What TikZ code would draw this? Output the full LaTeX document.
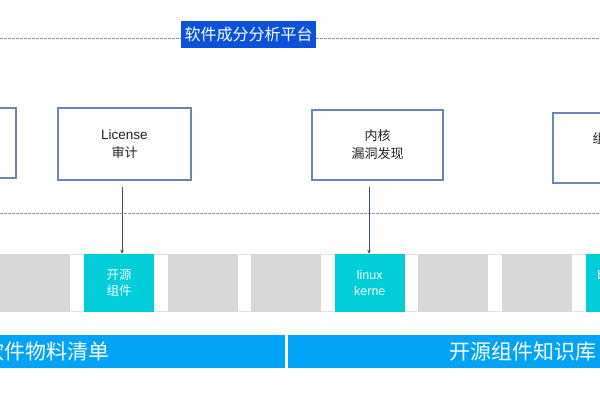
\documentclass[tikz,border=0pt]{standalone}
\usepackage{fontspec}
\setmainfont{Noto Sans CJK SC}
\newfontfamily\latinfont{Liberation Sans}
\usetikzlibrary{arrows.meta}
\definecolor{titleblue}{HTML}{0A52D9}
\definecolor{barblue}{HTML}{00A3F5}
\definecolor{cellgray}{HTML}{D8D8D8}
\definecolor{stripgray}{HTML}{E2E2E2}
\definecolor{cellcyan}{HTML}{00CDD8}
\definecolor{boxedge}{HTML}{6A85B8}
\definecolor{dashcol}{HTML}{8595B5}
\definecolor{arrowcol}{HTML}{3B4C7A}
\definecolor{boxtext}{HTML}{222222}
\tikzset{
  funcbox/.style={draw=boxedge, line width=1.2pt, fill=white, minimum width=131pt, minimum height=70pt,
    inner sep=0pt, align=center, text=boxtext, font=\fontsize{13}{18}\selectfont},
  cellbox/.style={minimum width=70pt, minimum height=58pt, inner sep=0pt, align=center,
    text=white, font=\fontsize{12.5}{16}\selectfont},
  graycell/.style={cellbox, fill=cellgray},
  cyancell/.style={cellbox, fill=cellcyan},
  gapbox/.style={fill=white, minimum width=13.6pt, minimum height=56pt, inner sep=0pt},
  barbox/.style={fill=barblue, minimum height=33pt, inner sep=0pt},
  bartext/.style={text=white, font=\fontsize{21}{21}\selectfont, inner sep=0pt},
  dashline/.style={draw=dashcol, line width=0.9pt, dash pattern=on 2.5pt off 1.5pt},
  arr/.style={draw=arrowcol, line width=0.9pt, -{Stealth[length=4pt,width=3.5pt]}},
}
\begin{document}
\begin{tikzpicture}[x=1pt,y=-1pt]
\useasboundingbox (0,0) rectangle (600,400);
\clip (0,0) rectangle (600,400);
% title and top dashed line
\node[fill=titleblue, text=white, minimum width=135pt, minimum height=27pt, inner sep=0pt,
  font=\fontsize{16}{16}\selectfont] (title) at (248.5,34.5) {软件成分分析平台};
\coordinate (tl) at (0,38);
\coordinate (tr) at (600,38);
\draw[dashline] (tl) -- (tl -| title.west);
\draw[dashline] (tr -| title.east) -- (tr);
% middle dashed line
\coordinate (ml) at (0,213);
\coordinate (mr) at (600,213);
\draw[dashline] (ml) -- (mr);
% function boxes
\node[funcbox] (b0) at (-49.5,143) {};
\node[funcbox, minimum width=133pt, minimum height=72pt] (lic) at (124.5,144) {{\latinfont\fontsize{13.5}{18}\selectfont License}\\审计};
\node[funcbox] (kern) at (377.5,145) {内核\\漏洞发现};
\node[funcbox] (b3) at (618.5,148) {组件漏洞\\检测};
% component strip
\node[fill=stripgray, minimum width=620pt, minimum height=58pt, inner sep=0pt] (strip) at (300,283) {};
\foreach \k in {-1,...,7} {
  \node[gapbox] (gap\k) at ({0.4+83.6*\k+76.8},283) {};
}
\node[graycell] (c0) at (35.4,283) {};
\node[cyancell] (c1) at (119.0,283) {开源\\组件};
\node[graycell] (c2) at (202.6,283) {};
\node[graycell] (c3) at (286.2,283) {};
\node[cyancell] (c4) at (369.8,283) {{\latinfont linux}\\{\latinfont kerne}};
\node[graycell] (c5) at (453.4,283) {};
\node[graycell] (c6) at (537.0,283) {};
\node[cyancell] (c7) at (620.6,283) {{\latinfont busybox}\\\phantom{x}};
% arrows
\draw[arr] ([xshift=-2.5pt,yshift=-6pt]lic.south) -- ([xshift=3pt]c1.north);
\draw[arr] ([xshift=-8.5pt,yshift=-6pt]kern.south) -- ([xshift=-0.8pt]c4.north);
% bottom bars
\node[barbox, minimum width=305pt] (bar1) at (132.5,351.5) {};
\node[barbox, minimum width=312pt] (bar2) at (444,351.5) {};
\node[bartext, anchor=east] (t1) at (110,352) {软件物料清单};
\node[bartext, anchor=east] (t2) at (597,352) {开源组件知识库};
\end{tikzpicture}
\end{document}
